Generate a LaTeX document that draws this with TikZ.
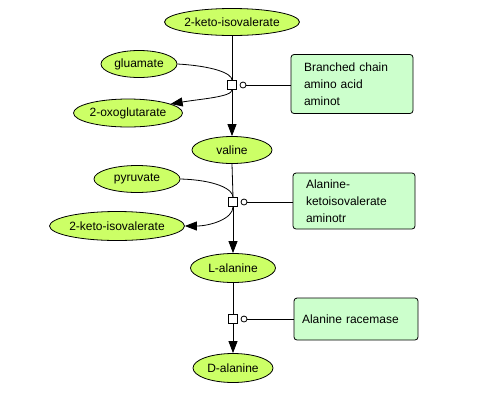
\documentclass[tikz,border=0pt]{standalone}
\usepackage{fontspec}
\setmainfont{Liberation Sans}
\usetikzlibrary{shapes.geometric,arrows.meta}
\definecolor{metab}{RGB}{204,255,102}
\definecolor{enz}{RGB}{204,255,204}
\tikzset{
  mol/.style={ellipse,draw=black,line width=0.8pt,fill=metab,inner sep=0pt,font=\fontsize{12}{14}\selectfont},
  enzbox/.style={rectangle,rounded corners=3pt,draw=black,line width=0.8pt,fill=enz,align=left,text width=96pt,inner xsep=13pt,inner ysep=0pt,minimum width=122pt,font=\fontsize{12}{17}\selectfont},
  proc/.style={rectangle,draw=black,line width=0.8pt,fill=white,minimum size=9pt,inner sep=0pt},
  mod/.style={circle,draw=black,line width=0.8pt,fill=white,minimum size=6pt,inner sep=0pt},
  edge/.style={draw=black,line width=0.8pt},
  arr/.style={edge,-{Triangle[length=12pt,width=9pt]}}
}
\begin{document}
\begin{tikzpicture}[x=1pt,y=-1pt]
\useasboundingbox (0,0) rectangle (500,400);
% metabolites
\node[mol,minimum width=129pt,minimum height=27pt] (kiv1) at (232,22) {2-keto-isovalerate};
\node[mol,minimum width=76pt,minimum height=27pt] (glu) at (139,64) {gluamate};
\node[mol,minimum width=109pt,minimum height=28pt] (oxo) at (128,113) {2-oxoglutarate};
\node[mol,minimum width=80pt,minimum height=27pt] (val) at (232,150) {valine};
\node[mol,minimum width=86pt,minimum height=27pt] (pyr) at (137,179) {pyruvate};
\node[mol,minimum width=130pt,minimum height=29pt] (kiv2) at (117,226) {2-keto-isovalerate};
\node[mol,minimum width=85pt,minimum height=29pt] (lala) at (233,268) {L-alanine};
\node[mol,minimum width=80pt,minimum height=29pt] (dala) at (233,368) {D-alanine};
% process squares
\node[proc] (p1) at (232,85) {};
\node[proc] (p2) at (233,202) {};
\node[proc] (p3) at (233,319) {};
\node[mod] (m1) at (243,85) {};
\node[mod] (m2) at (244,202) {};
\node[mod] (m3) at (244,319) {};
% enzymes
\node[enzbox,minimum height=59pt] (e1) at (352,84) {Branched chain\\amino acid\\aminot};
\node[enzbox,minimum height=56pt] (e2) at (354,201) {Alanine-\\ketoisovalerate\\aminotr};
\node[enzbox,minimum height=42pt,text width=108pt,inner xsep=8pt,minimum width=124pt] (e3) at (356,319) {\mbox{Alanine racemase}};
% reaction 1
\draw[edge] (kiv1.south) -- (p1.north);
\draw[edge] (glu.east) .. controls +(35,2) and +(0,-7) .. (p1.north);
\draw[arr] (p1.south) .. controls +(0,7) and +(30,-5) .. (oxo.12);
\draw[arr] (p1.south) -- (val.north);
\draw[edge] (m1.east) -- (e1.west |- m1.east);
% reaction 2
\draw[edge] (val.south) -- (p2.north);
\draw[edge] (pyr.east) .. controls +(35,1) and +(0,-8) .. (p2.north);
\draw[arr] (p2.south) .. controls +(0,12) and +(25,0) .. (kiv2.east);
\draw[arr] (p2.south) -- (lala.north);
\draw[edge] (m2.east) -- (e2.west |- m2.east);
% reaction 3
\draw[edge] (lala.south) -- (p3.north);
\draw[arr] (p3.south) -- (dala.north);
\draw[edge] (m3.east) -- (e3.west |- m3.east);
\end{tikzpicture}
\end{document}
